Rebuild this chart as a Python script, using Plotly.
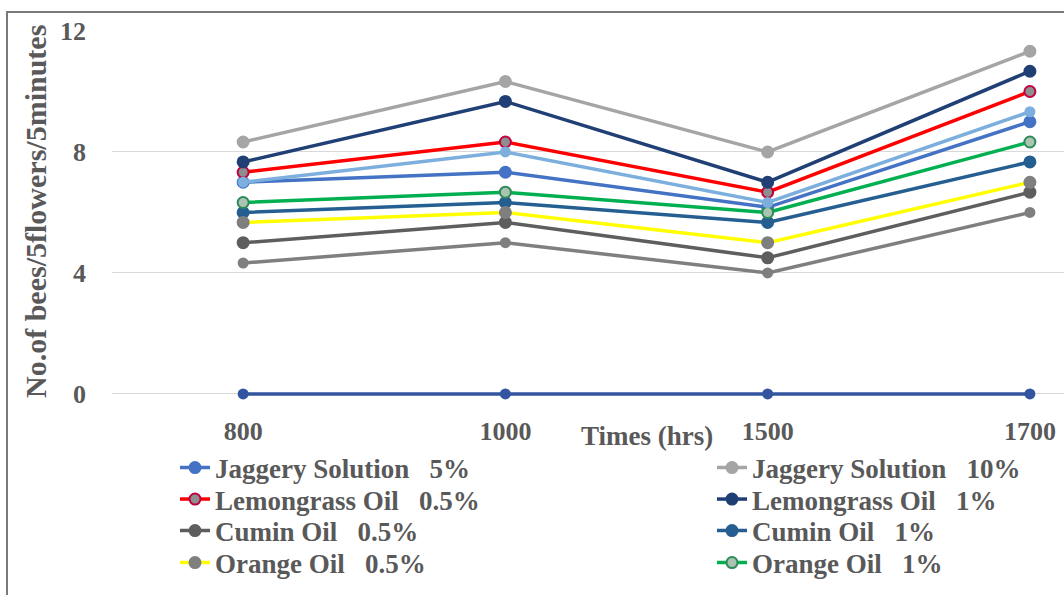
import plotly.graph_objects as go

# ---- data ----
times = ["800", "1000", "1500", "1700"]

jaggery_5 = [7.0, 7.33, 6.17, 9.0]
jaggery_10 = [8.33, 10.33, 8.0, 11.33]
lemongrass_05 = [7.33, 8.33, 6.67, 10.0]
lemongrass_1 = [7.67, 9.67, 7.0, 10.67]
cumin_05 = [5.0, 5.67, 4.5, 6.67]
cumin_1 = [6.0, 6.33, 5.67, 7.67]
orange_05 = [5.67, 6.0, 5.0, 7.0]
orange_1 = [6.33, 6.67, 6.0, 8.33]
# series whose legend entries are cut off in the original
extra_a = [7.0, 8.0, 6.33, 9.33]
extra_b = [4.33, 5.0, 4.0, 6.0]
extra_c = [0, 0, 0, 0]

names = ["Jaggery Solution\u00a0\u00a0 5%", "Jaggery Solution\u00a0\u00a0 10%",
         "Lemongrass Oil\u00a0\u00a0 0.5%", "Lemongrass Oil\u00a0\u00a0 1%",
         "Cumin Oil\u00a0\u00a0 0.5%", "Cumin Oil\u00a0\u00a0 1%",
         "Orange Oil\u00a0\u00a0 0.5%", "Orange Oil\u00a0\u00a0 1%"]
series = [jaggery_5, jaggery_10, lemongrass_05, lemongrass_1,
          cumin_05, cumin_1, orange_05, orange_1]

line_colors = ["#4472C4", "#A5A5A5", "#FF0000", "#203F75",
               "#5E5E5E", "#255E91", "#FFFF00", "#00B050"]
marker_fill = ["#4472C4", "#A5A5A5", "#8E8E8E", "#203F75",
               "#5E5E5E", "#255E91", "#7F7F7F", "#A9C4B0"]
marker_line = ["#4472C4", "#A5A5A5", "#C00040", "#203F75",
               "#5E5E5E", "#255E91", "#7F7F7F", "#2E8B57"]

FONT = "Liberation Serif"
TXT = "#595959"

fig = go.Figure()

# legend placement (container coords): column left edges, row centres
col_x = [175, 712]
row_y = [468, 499.5, 531, 563]
W, H = 1064, 595

for i, (nm, ys) in enumerate(zip(names, series)):
    fig.add_trace(go.Scatter(
        x=times, y=ys, name=nm, mode="lines+markers",
        line=dict(color=line_colors[i], width=3.5),
        marker=dict(size=11, color=marker_fill[i],
                    line=dict(color=marker_line[i], width=2)),
        cliponaxis=False,
        legend="legend" if i == 0 else f"legend{i+1}",
    ))

extras = [(extra_a, "#7CAFDD"), (extra_b, "#7F7F7F"), (extra_c, "#3355A0")]
for ys, c in extras:
    fig.add_trace(go.Scatter(
        x=times, y=ys, mode="lines+markers", showlegend=False,
        line=dict(color=c, width=3.5),
        marker=dict(size=11, color=c),
        cliponaxis=False,
    ))

legend_font = dict(family=FONT, size=27, color=TXT, weight="bold")
legends = {}
for i in range(8):
    key = "legend" if i == 0 else f"legend{i+1}"
    r, c = divmod(i, 2)
    legends[key] = dict(
        xref="container", yref="container",
        x=col_x[c] / W, y=1 - row_y[r] / H,
        xanchor="left", yanchor="middle",
        font=legend_font, bgcolor="rgba(0,0,0,0)",
        borderwidth=0, itemwidth=30,
    )

Y0 = -0.2  # small pad below zero so the zero line is not clipped
pad_px = -Y0 * 363 / 12
B = 201 - pad_px
plot_bottom = H - B
plot_h = plot_bottom - 31


def py(p):
    return (plot_bottom - p) / plot_h


def px(p):
    return (p - 112) / 952


fig.update_layout(
    width=W, height=H,
    margin=dict(l=112, r=0, t=31, b=B, autoexpand=False),
    paper_bgcolor="white", plot_bgcolor="white",
    showlegend=True,
    xaxis=dict(
        type="category", range=[-0.5, 3.13],
        showgrid=False, zeroline=False, showline=False,
        ticks="", ticklabelstandoff=int(round(19 - pad_px)), tickangle=0,
        automargin=False,
        tickfont=dict(family=FONT, size=26, color=TXT, weight="bold"),
    ),
    yaxis=dict(
        range=[Y0, 12], tickvals=[0, 4, 8, 12],
        showgrid=True, gridcolor="#D9D9D9", gridwidth=1,
        zeroline=False, showline=False, ticks="", automargin=False,
        ticklabelstandoff=25,
        tickfont=dict(family=FONT, size=26, color=TXT, weight="bold"),
    ),
    annotations=[
        dict(text="Times (hrs)", xref="x", yref="paper", x=1.54, y=py(436),
             xanchor="center", yanchor="middle", showarrow=False,
             font=dict(family=FONT, size=27, color=TXT, weight="bold")),
        dict(text="No.of bees/5flowers/5minutes", textangle=-90,
             xref="paper", yref="paper", x=px(36), y=py(212),
             xanchor="center", yanchor="middle", showarrow=False,
             font=dict(family=FONT, size=30, color=TXT, weight="bold")),
    ],
    shapes=[dict(
        type="rect", xref="paper", yref="paper",
        x0=px(7), x1=1.2, y0=-0.7, y1=py(12),
        line=dict(color="#7A7A7A", width=2), fillcolor="rgba(0,0,0,0)",
        layer="below",
    )],
    **legends,
)

fig.write_html("out.html")
